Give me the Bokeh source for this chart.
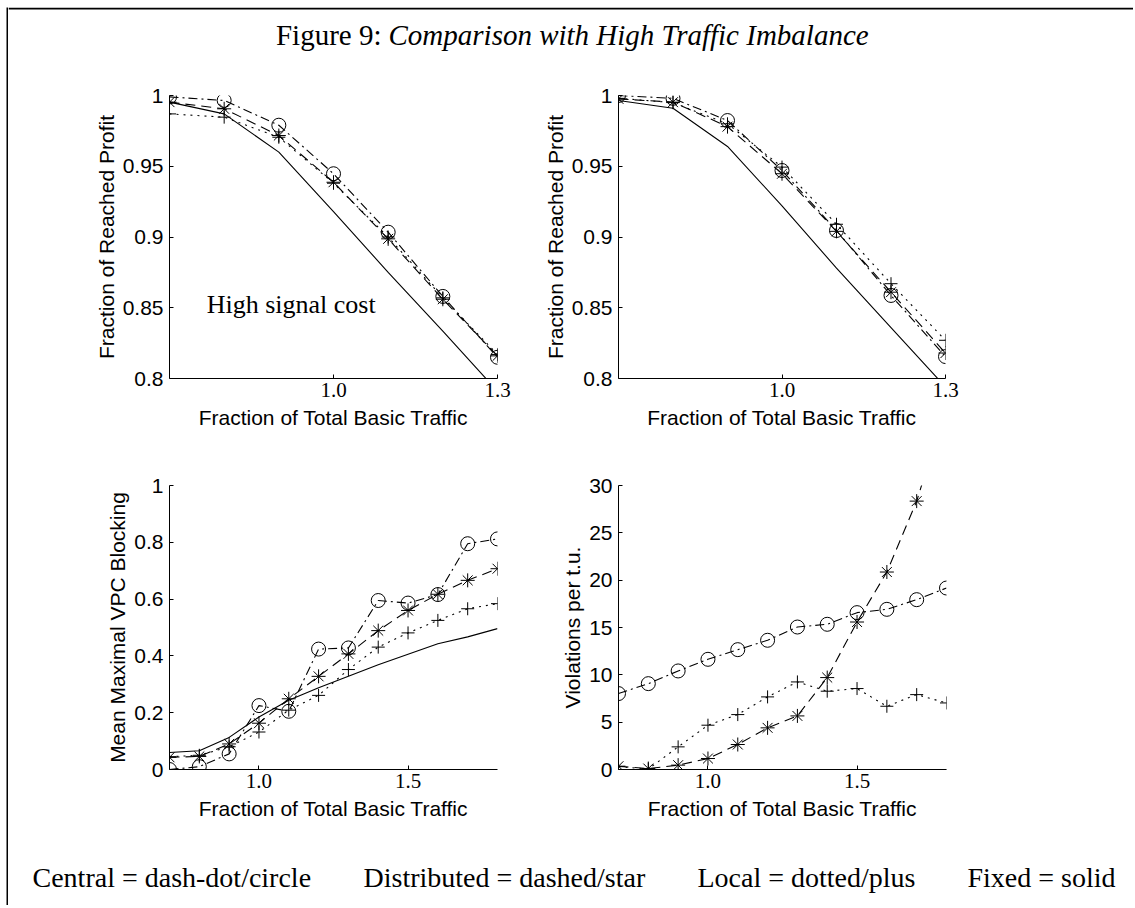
from bokeh.plotting import figure
from bokeh.layouts import column, row
from bokeh.models import Range1d, FixedTicker, CustomJSTickFormatter, Spacer, Span
from bokeh.core.properties import value
from bokeh.embed import file_html
from bokeh.resources import INLINE

SANS = "Liberation Sans"
SERIF = "Liberation Serif"

# ---------------- data ----------------
title_parts = ["Figure 9:", "Comparison with High Traffic Imbalance"]
legend_items = ["Central = dash-dot/circle", "Distributed = dashed/star",
                "Local = dotted/plus", "Fixed = solid"]
annotation_text = "High signal cost"

traffic_top = [0.7, 0.8, 0.9, 1.0, 1.1, 1.2, 1.3]
traffic_bottom = [0.7, 0.8, 0.9, 1.0, 1.1, 1.2, 1.3, 1.4, 1.5, 1.6, 1.7, 1.8]

# top-left: reached profit, high signal cost
profit_high_central = [0.999, 0.9965, 0.979, 0.9447, 0.9034, 0.858, 0.815]
profit_high_distributed = [0.9953, 0.9906, 0.9717, 0.9387, 0.8987, 0.856, 0.816]
profit_high_local = [0.987, 0.9847, 0.9705, 0.938, 0.900, 0.857, 0.817]
profit_high_fixed = [0.9953, 0.987, 0.960, 0.918, 0.875, 0.8335, 0.791]

# top-right: reached profit
profit_central = [1.0, 0.998, 0.9823, 0.947, 0.9046, 0.8587, 0.8155]
profit_distributed = [0.9976, 0.9953, 0.978, 0.9447, 0.904, 0.861, 0.818]
profit_local = [0.998, 0.995, 0.980, 0.9494, 0.909, 0.867, 0.827]
profit_fixed = [0.9965, 0.991, 0.964, 0.922, 0.878, 0.836, 0.794]

# bottom-left: mean maximal VPC blocking
blocking_central = [0.0, 0.01, 0.055, 0.225, 0.205, 0.424, 0.428, 0.595, 0.586, 0.616, 0.795, 0.812]
blocking_distributed = [0.043, 0.046, 0.09, 0.163, 0.249, 0.328, 0.407, 0.489, 0.56, 0.617, 0.666, 0.707]
blocking_local = [0.045, 0.05, 0.08, 0.132, 0.209, 0.261, 0.352, 0.431, 0.481, 0.525, 0.566, 0.584]
blocking_fixed = [0.06, 0.066, 0.113, 0.185, 0.244, 0.288, 0.328, 0.369, 0.406, 0.443, 0.467, 0.496]

# bottom-right: violations per t.u.
violations_central = [8.02, 9.07, 10.41, 11.64, 12.66, 13.65, 15.05, 15.34, 16.57, 16.92, 17.94, 19.17]
violations_distributed = [0.35, 0.1, 0.46, 1.16, 2.64, 4.40, 5.66, 9.71, 15.58, 20.86, 28.35, 38.5]
violations_local = [0.3, 0.05, 2.39, 4.68, 5.80, 7.67, 9.25, 8.27, 8.55, 6.68, 7.91, 7.03]
violations_fixed = [0, 0, 0, 0, 0, 0, 0, 0, 0, 0, 0, 0]

yticks_profit = [0.8, 0.85, 0.9, 0.95, 1.0]
yticks_blocking = [0.0, 0.2, 0.4, 0.6, 0.8, 1.0]
yticks_violations = [0, 5, 10, 15, 20, 25, 30]
xticks_top = [1.0, 1.3]
xticks_bottom = [1.0, 1.5]

xlabel = "Fraction of Total Basic Traffic"

# ---------------- styles ----------------
SERIES_STYLE = {
    "central": dict(dash="9 4 2 4", marker="circle", size=14),
    "distributed": dict(dash="10 6", marker="asterisk", size=14),
    "local": dict(dash="2 5", marker="cross", size=13),
    "fixed": dict(dash="solid", marker=None, size=0),
}

# page geometry (page pixels)
MARGIN_X, MARGIN_Y, FRAME_LINE = 6, 7, 2
TITLE_H = 63
TOP_Y, TOP_H = 72, 380
BOT_Y, BOT_H = 452, 395
LEGEND_H = 53
LEFT_X, LEFT_W = 8, 514
RIGHT_X, RIGHT_W = 522, 611


def panel(fig_x, fig_w, ax_x0, ax_x1, fig_y, fig_h, ax_yt, ax_yb,
          xlim, ylim, x, series, yticks, xticks, ylabel):
    p = figure(width=fig_w, height=fig_h,
               x_range=Range1d(*xlim), y_range=Range1d(*ylim),
               output_backend="svg", toolbar_location=None,
               min_border_left=ax_x0 - fig_x,
               min_border_right=fig_x + fig_w - ax_x1,
               min_border_top=ax_yt - fig_y,
               min_border_bottom=fig_y + fig_h - ax_yb)
    p.outline_line_color = None
    p.grid.visible = False
    p.background_fill_color = "white"
    p.border_fill_color = "white"

    xa = p.xaxis[0]
    ya = p.yaxis[0]
    for ax in (xa, ya):
        ax.axis_line_color = "black"
        ax.axis_line_width = 1
        ax.major_tick_line_color = "black"
        ax.major_tick_in = 4
        ax.major_tick_out = 0
        ax.minor_tick_in = 0
        ax.minor_tick_out = 0
        ax.major_label_text_color = "black"
        ax.major_label_text_font_size = "21px"
        ax.axis_label_text_font = SANS
        ax.axis_label_text_font_size = "21px"
        ax.axis_label_text_font_style = "normal"
        ax.axis_label_text_color = "black"

    ya.ticker = FixedTicker(ticks=yticks, minor_ticks=[])
    ya.formatter = CustomJSTickFormatter(code="return String(tick)")
    ya.major_label_text_font = SANS
    ya.major_label_standoff = 6
    ya.axis_label_standoff = 2
    ya.axis_label = ylabel

    xa.ticker = FixedTicker(ticks=xticks, minor_ticks=[])
    xa.formatter = CustomJSTickFormatter(code="return tick.toFixed(1)")
    xa.major_label_text_font = SERIF
    xa.major_label_standoff = 4
    xa.axis_label_standoff = 6
    xa.axis_label = xlabel

    for name in ("fixed", "local", "distributed", "central"):
        st = SERIES_STYLE[name]
        ys = series[name]
        p.line(x, ys, line_color="black", line_width=1.1, line_dash=st["dash"])
        if st["marker"]:
            p.scatter(x, ys, marker=st["marker"], size=st["size"],
                      fill_color=None, line_color="black", line_width=1)
    return p


p_tl = panel(LEFT_X, LEFT_W, 169, 497, TOP_Y, TOP_H, 95, 378,
             (0.7, 1.3), (0.8, 1.0), traffic_top,
             dict(central=profit_high_central, distributed=profit_high_distributed,
                  local=profit_high_local, fixed=profit_high_fixed),
             yticks_profit, xticks_top, "Fraction of Reached Profit")
p_tl.text(x=[0.768], y=[0.8524], text=[annotation_text],
          text_font=value(SERIF), text_font_size="26px",
          text_align="left", text_baseline="middle", text_color="black")

p_tr = panel(RIGHT_X, RIGHT_W, 618, 945, TOP_Y, TOP_H, 95, 378,
             (0.7, 1.3), (0.8, 1.0), traffic_top,
             dict(central=profit_central, distributed=profit_distributed,
                  local=profit_local, fixed=profit_fixed),
             yticks_profit, xticks_top, "Fraction of Reached Profit")

p_bl = panel(LEFT_X, LEFT_W, 169, 497, BOT_Y, BOT_H, 485, 769,
             (0.7, 1.8), (0.0, 1.0), traffic_bottom,
             dict(central=blocking_central, distributed=blocking_distributed,
                  local=blocking_local, fixed=blocking_fixed),
             yticks_blocking, xticks_bottom, "Mean Maximal VPC Blocking")

p_br = panel(RIGHT_X, RIGHT_W, 618, 946, BOT_Y, BOT_H, 485, 769,
             (0.7, 1.8), (0, 30), traffic_bottom,
             dict(central=violations_central, distributed=violations_distributed,
                  local=violations_local, fixed=violations_fixed),
             yticks_violations, xticks_bottom, "Violations per t.u.")

FULL_W = LEFT_W + RIGHT_W
CONTENT_H = TITLE_H + TOP_H + BOT_H + LEGEND_H


def text_fig(h):
    f = figure(width=FULL_W, height=h, x_range=Range1d(0, FULL_W),
               y_range=Range1d(h, 0),
               output_backend="svg", toolbar_location=None,
               x_axis_location=None, y_axis_location=None,
               min_border=0, min_border_left=0, min_border_right=0,
               min_border_top=0, min_border_bottom=0)
    f.outline_line_color = None
    f.grid.visible = False
    f.background_fill_color = "white"
    f.border_fill_color = "white"
    return f


def bar_fig(w, h):
    f = figure(width=w, height=h, output_backend="svg", toolbar_location=None,
               x_axis_location=None, y_axis_location=None,
               min_border=0, min_border_left=0, min_border_right=0,
               min_border_top=0, min_border_bottom=0)
    f.outline_line_color = None
    f.grid.visible = False
    f.background_fill_color = "black"
    f.border_fill_color = "black"
    return f


# title strip: the frame's top line is a Span along its upper edge
title_fig = text_fig(TITLE_H + FRAME_LINE)
title_fig.add_layout(Span(location=FRAME_LINE / 2, dimension="width",
                          line_color="black", line_width=FRAME_LINE))
title_fig.text(x=[373], y=[25 + FRAME_LINE], text=[title_parts[0]], text_font=value(SERIF),
               text_font_size="29px", text_align="right", text_baseline="middle",
               text_color="black")
title_fig.text(x=[380], y=[25 + FRAME_LINE], text=[title_parts[1]], text_font=value(SERIF),
               text_font_size="29px", text_font_style="italic", text_align="left",
               text_baseline="middle", text_color="black")

legend_fig = text_fig(LEGEND_H)
legend_fig.text(x=[24, 355, 689, 959], y=[29.5, 29.5, 29.5, 29.5], text=legend_items,
                text_font=value(SERIF), text_font_size="28px", text_align="left",
                text_baseline="middle", text_color="black")

content = column(title_fig, row(p_tl, p_tr), row(p_bl, p_br), legend_fig)
framed = row(bar_fig(FRAME_LINE, CONTENT_H + FRAME_LINE + 5), content)
layout = column(Spacer(width=10, height=MARGIN_Y),
                row(Spacer(width=MARGIN_X, height=10), framed))

open("out.html", "w").write(file_html(layout, INLINE))
